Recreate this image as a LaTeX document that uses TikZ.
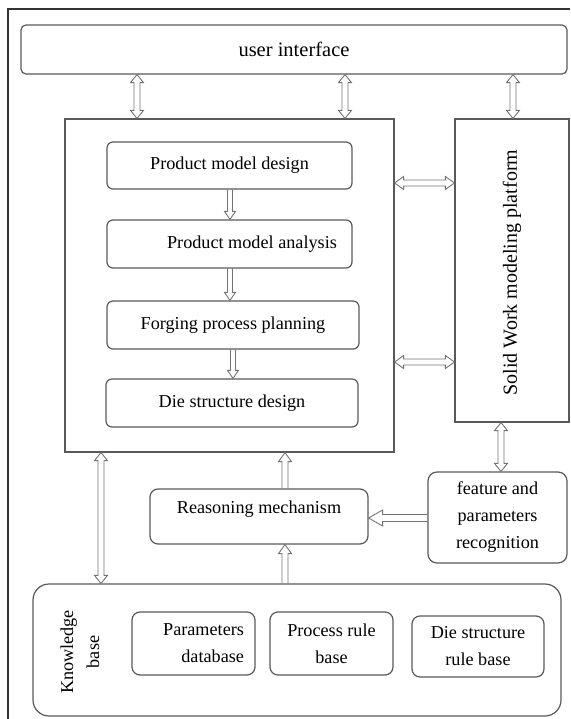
\documentclass[tikz,border=0pt]{standalone}
\usepackage{fontspec}
\setmainfont{Liberation Serif}
\usetikzlibrary{calc}
\tikzset{
  box/.style={draw=black!65, line width=1.2pt, text=black, font=\fontsize{18.2}{27}\selectfont, align=center, inner sep=2pt},
  rbox/.style={box, rounded corners=6pt},
  arr/.style={draw=black!55, line width=0.9pt, line join=miter},
  frameline/.style={draw=black!80, line width=1.6pt}
}
% double vertical: #1 top point, #2 bottom point
\newcommand\arrUD[2]{\draw[arr] let \p1=(#1),\p2=(#2) in
  (\x1,\y1) -- (\x1+6.5pt,\y1-8pt) -- (\x1+3pt,\y1-8pt) -- (\x1+3pt,\y2+8pt) -- (\x1+6.5pt,\y2+8pt) -- (\x1,\y2)
  -- (\x1-6.5pt,\y2+8pt) -- (\x1-3pt,\y2+8pt) -- (\x1-3pt,\y1-8pt) -- (\x1-6.5pt,\y1-8pt) -- cycle;}
% double horizontal: #1 left point, #2 right point
\newcommand\arrLR[2]{\draw[arr] let \p1=(#1),\p2=(#2) in
  (\x1,\y1) -- (\x1+9pt,\y1+6.5pt) -- (\x1+9pt,\y1+3pt) -- (\x2-9pt,\y1+3pt) -- (\x2-9pt,\y1+6.5pt) -- (\x2,\y1)
  -- (\x2-9pt,\y1-6.5pt) -- (\x2-9pt,\y1-3pt) -- (\x1+9pt,\y1-3pt) -- (\x1+9pt,\y1-6.5pt) -- cycle;}
% down: #1 top tail, #2 bottom head
\newcommand\arrDown[2]{\draw[arr] let \p1=(#1),\p2=(#2) in
  (\x2-2.5pt,\y1) -- (\x2-2.5pt,\y2+8pt) -- (\x2-5.5pt,\y2+8pt) -- (\x2,\y2) -- (\x2+5.5pt,\y2+8pt) -- (\x2+2.5pt,\y2+8pt) -- (\x2+2.5pt,\y1);}
% up: #1 bottom tail, #2 top head
\newcommand\arrUp[2]{\draw[arr] let \p1=(#1),\p2=(#2) in
  (\x2-3pt,\y1) -- (\x2-3pt,\y2-9pt) -- (\x2-6.5pt,\y2-9pt) -- (\x2,\y2) -- (\x2+6.5pt,\y2-9pt) -- (\x2+3pt,\y2-9pt) -- (\x2+3pt,\y1);}
% left: #1 right tail, #2 left head
\newcommand\arrLeft[2]{\draw[arr] let \p1=(#1),\p2=(#2) in
  (\x1,\y2+3.5pt) -- (\x2+14pt,\y2+3.5pt) -- (\x2+14pt,\y2+8pt) -- (\x2,\y2) -- (\x2+14pt,\y2-8pt) -- (\x2+14pt,\y2-3.5pt) -- (\x1,\y2-3.5pt);}
\begin{document}
\begin{tikzpicture}[x=1pt,y=-1pt]
\useasboundingbox (0,0) rectangle (570,719);
% outer frame (only top and left visible)
\draw[frameline] (8,719) -- (8,9) -- (570,9);

% nodes
\node[box, rounded corners=5pt, minimum width=546pt, minimum height=49pt, font=\fontsize{20.5}{27}\selectfont] (ui) at (294,49.5) {user interface};
\node[box, minimum width=329pt, minimum height=333pt] (main) at (229.5,285.5) {};
\node[rbox, minimum width=245pt, minimum height=47pt] (pmd) at (229.5,165.5) {Product model design};
\node[rbox, minimum width=245pt, minimum height=48pt] (pma) at (229.5,244) {\hspace*{45pt}Product model analysis};
\node[rbox, minimum width=252pt, minimum height=48pt] (fpp) at (233,325) {Forging process planning};
\node[rbox, minimum width=252pt, minimum height=48pt] (dsd) at (232,403) {Die structure design};
\node[box, minimum width=114pt, minimum height=303pt,
      label={[rotate=90, font=\fontsize{20}{27}\selectfont, xshift=-2pt]center:Solid Work modeling platform}] (sw) at (512,270.5) {};
\node[rbox, rounded corners=8pt, minimum width=218pt, minimum height=55pt, text depth=19pt] (rm) at (259,516.5) {Reasoning mechanism};
\node[rbox, rounded corners=9pt, minimum width=139pt, minimum height=91pt] (feat) at (497.5,517.5) {feature and\\parameters\\recognition};
\node[rbox, rounded corners=16pt, minimum width=528pt, minimum height=132pt] (kb) at (297,650) {};
\node[font=\fontsize{18.2}{26}\selectfont, align=center, rotate=90, inner sep=0pt] (kbl) at (80,652) {Knowledge\\base};
\node[rbox, rounded corners=8pt, minimum width=123pt, minimum height=63pt, text width=101pt, align=right] (pdb) at (193.5,643.5) {Parameters\\database};
\node[rbox, rounded corners=8pt, minimum width=123pt, minimum height=63pt] (prb) at (331.5,643.5) {Process rule\\base};
\node[rbox, rounded corners=8pt, minimum width=132pt, minimum height=61pt] (dsrb) at (478,646.5) {Die structure\\rule base};

% helper coordinates for arrow columns / rows
\coordinate (c1) at (137,0);
\coordinate (c2) at (345,0);
\coordinate (c3) at (513,0);
\coordinate (c4) at (230,0);
\coordinate (c5) at (233,0);
\coordinate (c6) at (501,0);
\coordinate (c7) at (101,0);
\coordinate (c8) at (285,0);
\coordinate (r1) at (0,183);
\coordinate (r2) at (0,362);
\coordinate (r3) at (0,518);

% connectors
\arrUD{ui.south -| c1}{main.north -| c1}
\arrUD{ui.south -| c2}{main.north -| c2}
\arrUD{ui.south -| c3}{sw.north -| c3}
\arrDown{pmd.south -| c4}{pma.north -| c4}
\arrDown{pma.south -| c4}{fpp.north -| c4}
\arrDown{fpp.south -| c5}{dsd.north -| c5}
\arrLR{main.east |- r1}{sw.west |- r1}
\arrLR{main.east |- r2}{sw.west |- r2}
\arrUD{sw.south -| c6}{feat.north -| c6}
\arrUD{main.south -| c7}{kb.north -| c7}
\arrUp{rm.north -| c8}{main.south -| c8}
\arrUp{kb.north -| c8}{rm.south -| c8}
\arrLeft{feat.west |- r3}{rm.east |- r3}
\end{tikzpicture}
\end{document}
